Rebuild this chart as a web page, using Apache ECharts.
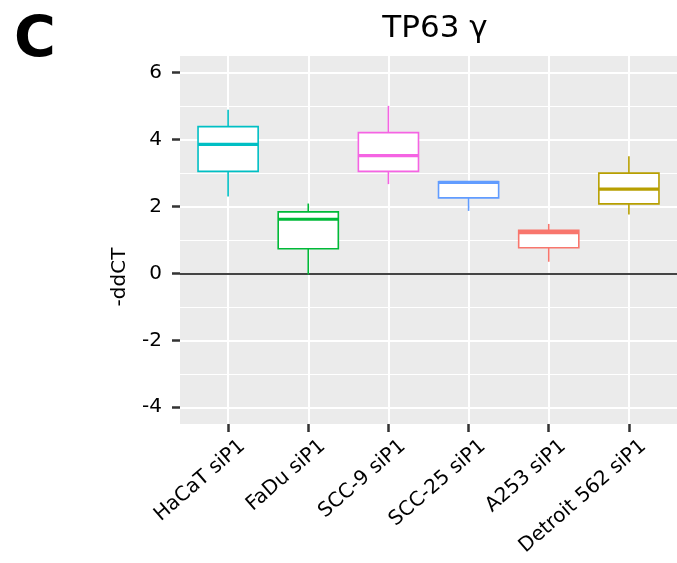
<!DOCTYPE html>
<html>
<head>
<meta charset="utf-8">
<script src="https://cdn.jsdelivr.net/npm/echarts@6/dist/echarts.min.js"></script>
<style>
  html, body { margin: 0; padding: 0; background: #fff; }
  #chart { width: 677px; height: 563px; }
</style>
</head>
<body>
<div id="chart"></div>
<script>
// ---- data ----
const categories = ['HaCaT siP1', 'FaDu siP1', 'SCC-9 siP1', 'SCC-25 siP1', 'A253 siP1', 'Detroit 562 siP1'];
const lowerWhisker = [2.30, -0.03, 2.67, 1.87, 0.35, 1.76];
const q1Values     = [3.05, 0.74, 3.05, 2.26, 0.77, 2.08];
const medianValues = [3.86, 1.62, 3.52, 2.72, 1.22, 2.52];
const q3Values     = [4.39, 1.84, 4.21, 2.74, 1.29, 3.00];
const upperWhisker = [4.89, 2.09, 5.01, 2.74, 1.48, 3.50];
const yTickValues  = [-4, -2, 0, 2, 4, 6];
const yMinorValues = [-3, -1, 1, 3, 5];
const xTickValues  = [0, 1, 2, 3, 4, 5];

// ---- styles ----
const boxColors = ['#00BFC4', '#00BA38', '#F564E3', '#619CFF', '#F8766D', '#B79F00'];
const FONT = 'DejaVu Sans';

const boxData = categories.map((c, i) => [i, lowerWhisker[i], q1Values[i], medianValues[i], q3Values[i], upperWhisker[i]]);

const gridLines = [];
xTickValues.forEach(v => gridLines.push({ xAxis: v, lineStyle: { color: '#ffffff', width: 2, type: 'solid' } }));
yMinorValues.forEach(v => gridLines.push({ yAxis: v, lineStyle: { color: '#ffffff', width: 1, type: 'solid' } }));
yTickValues.forEach(v => gridLines.push({ yAxis: v, lineStyle: { color: '#ffffff', width: 2, type: 'solid' } }));
gridLines.push({ yAxis: 0, lineStyle: { color: '#444444', width: 2, type: 'solid' } });

const chart = echarts.init(document.getElementById('chart'), null, { renderer: 'canvas' });
chart.setOption({
  animation: false,
  backgroundColor: '#ffffff',
  textStyle: { fontFamily: FONT },
  title: [
    { text: 'TP63 γ', left: 430, top: 8, textAlign: 'center',
      textStyle: { fontFamily: FONT, fontSize: 31, fontWeight: 'normal', color: '#000' } },
    { text: 'C', left: 9, top: 9,
      textStyle: { fontFamily: FONT, fontSize: 57, fontWeight: 'bold', color: '#000' } }
  ],
  grid: { left: 180, right: 0, top: 56, bottom: 139, show: true, backgroundColor: '#EBEBEB', borderWidth: 0, outerBoundsMode: 'none' },
  xAxis: {
    type: 'value', min: -0.6, max: 5.6,
    axisLine: { show: false, onZero: false },
    splitLine: { show: false },
    axisTick: { show: true, customValues: xTickValues, length: 8, lineStyle: { color: '#333333', width: 2.5 } },
    axisLabel: {
      customValues: xTickValues, rotate: 41, margin: 3, verticalAlign: 'top', padding: [12, 0, 0, 0],
      fontSize: 20, color: '#000', fontFamily: FONT,
      formatter: v => categories[Math.round(v)] || ''
    }
  },
  yAxis: {
    type: 'value', min: -4.5, max: 6.5,
    name: '-ddCT', nameLocation: 'middle', nameGap: 50, nameRotate: 90,
    nameTextStyle: { fontSize: 20, color: '#000', fontFamily: FONT, padding: [0, 74, 0, 0] },
    axisLine: { show: false, onZero: false },
    splitLine: { show: false },
    axisTick: { show: true, customValues: yTickValues, length: 8, lineStyle: { color: '#333333', width: 2.5 } },
    axisLabel: { customValues: yTickValues, margin: 18, fontSize: 20, color: '#000', fontFamily: FONT }
  },
  series: [
    {
      type: 'line', data: [], z: 1, silent: true,
      markLine: { silent: true, symbol: ['none', 'none'], z: 1, label: { show: false }, data: gridLines }
    },
    {
      type: 'custom', z: 3, data: boxData,
      renderItem: function (params, api) {
        const x = api.value(0);
        const lo = api.coord([x, api.value(1)]);
        const q1 = api.coord([x, api.value(2)]);
        const md = api.coord([x, api.value(3)]);
        const q3 = api.coord([x, api.value(4)]);
        const hi = api.coord([x, api.value(5)]);
        const w = api.size([1, 0])[0] * 0.75;
        const color = boxColors[params.dataIndex];
        return {
          type: 'group',
          children: [
            { type: 'line', shape: { x1: lo[0], y1: lo[1], x2: q1[0], y2: q1[1] }, style: { stroke: color, lineWidth: 1.6 } },
            { type: 'line', shape: { x1: q3[0], y1: q3[1], x2: hi[0], y2: hi[1] }, style: { stroke: color, lineWidth: 1.6 } },
            { type: 'rect', shape: { x: q1[0] - w / 2, y: q3[1], width: w, height: q1[1] - q3[1] }, style: { fill: '#ffffff', stroke: color, lineWidth: 1.6 } },
            { type: 'line', shape: { x1: md[0] - w / 2, y1: md[1], x2: md[0] + w / 2, y2: md[1] }, style: { stroke: color, lineWidth: 3.2 } }
          ]
        };
      }
    }
  ]
});
</script>
</body>
</html>
